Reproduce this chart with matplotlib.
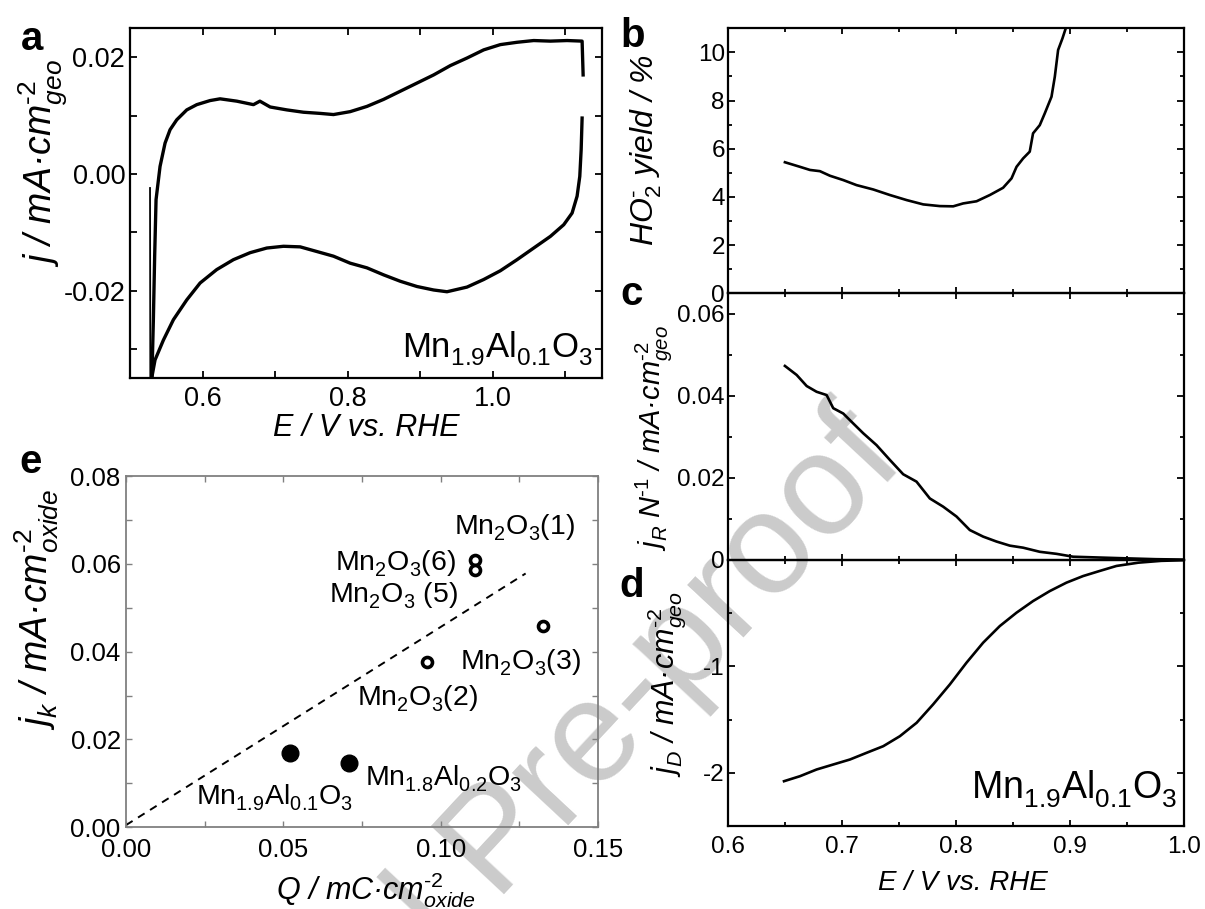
import matplotlib
matplotlib.use('Agg')
import matplotlib.pyplot as plt
from matplotlib.ticker import MultipleLocator, FixedLocator, FuncFormatter

try:  # deeper subscripts, closer to the reference typography
    import matplotlib._mathtext as _mt
    _mt.FontConstantsBase.sub1 = 0.46
except Exception:
    pass

plt.rcParams['font.family'] = ['Liberation Sans', 'DejaVu Sans']
plt.rcParams['mathtext.fontset'] = 'custom'
plt.rcParams['mathtext.rm'] = 'Liberation Sans'
plt.rcParams['mathtext.it'] = 'Liberation Sans:italic'
plt.rcParams['mathtext.bf'] = 'Liberation Sans:bold'
plt.rcParams['mathtext.default'] = 'regular'
plt.rcParams['axes.unicode_minus'] = False

# ---------------- data ----------------
# (a) cyclic voltammogram
cv_spike_E = [0.5276, 0.5280]
cv_spike_j = [-0.0024, -0.0360]
cv_anodic_E = [0.5300, 0.5322, 0.5340, 0.5359, 0.5414, 0.5483, 0.5552, 0.5644, 0.5782, 0.5920,
               0.6103, 0.6241, 0.6471, 0.6701, 0.6790, 0.6931, 0.7161, 0.7390, 0.7620, 0.7804,
               0.8034, 0.8265, 0.8494, 0.8724, 0.8954, 0.9184, 0.9414, 0.9644, 0.9874, 1.0103,
               1.0333, 1.0563, 1.0793, 1.1023, 1.1230, 1.1244]
cv_anodic_j = [-0.0360, -0.0250, -0.0140, -0.0044, 0.0013, 0.0053, 0.0076, 0.0093, 0.0110, 0.0119,
               0.0126, 0.0129, 0.0125, 0.0119, 0.0125, 0.0115, 0.0110, 0.0106, 0.0104, 0.0102,
               0.0107, 0.0116, 0.0128, 0.0142, 0.0156, 0.0170, 0.0186, 0.0199, 0.0213, 0.0222,
               0.0226, 0.0229, 0.0228, 0.0229, 0.0228, 0.0170]
cv_cathodic_E = [1.1230, 1.1217, 1.1198, 1.1161, 1.1092, 1.0977, 1.0793, 1.0563, 1.0333, 1.0103,
                 0.9874, 0.9644, 0.9368, 0.9184, 0.8954, 0.8724, 0.8494, 0.8265, 0.8034, 0.7804,
                 0.7575, 0.7345, 0.7115, 0.6885, 0.6655, 0.6425, 0.6195, 0.5966, 0.5782, 0.5598,
                 0.5460, 0.5345, 0.5299, 0.5290]
cv_cathodic_j = [0.0096, 0.0042, -0.0004, -0.0038, -0.0067, -0.0087, -0.0107, -0.0127, -0.0147, -0.0166,
                 -0.0181, -0.0194, -0.0202, -0.0199, -0.0193, -0.0184, -0.0173, -0.0161, -0.0153, -0.0141,
                 -0.0133, -0.0125, -0.0124, -0.0127, -0.0135, -0.0147, -0.0164, -0.0187, -0.0216, -0.0250,
                 -0.0285, -0.0319, -0.0350, -0.0360]

# (b) HO2- yield
ho2_E = [0.6497, 0.6629, 0.6717, 0.6804, 0.6892, 0.7009, 0.7126, 0.7272, 0.7418, 0.7565,
         0.7711, 0.7857, 0.7974, 0.8061, 0.8179, 0.8296, 0.8412, 0.8486, 0.8530, 0.8588,
         0.8646, 0.8675, 0.8734, 0.8778, 0.8837, 0.8866, 0.8895, 0.8933, 0.8962]
ho2_yield = [5.44, 5.25, 5.12, 5.07, 4.88, 4.70, 4.49, 4.31, 4.08, 3.87,
             3.69, 3.62, 3.61, 3.73, 3.82, 4.08, 4.38, 4.77, 5.25, 5.60,
             5.88, 6.64, 6.98, 7.47, 8.16, 8.99, 10.10, 10.58, 11.00]

# (c) ring current
jr_E = [0.6497, 0.6600, 0.6688, 0.6775, 0.6863, 0.6921, 0.7009, 0.7096, 0.7184, 0.7301,
        0.7418, 0.7535, 0.7652, 0.7769, 0.7886, 0.8003, 0.8120, 0.8237, 0.8354, 0.8471,
        0.8588, 0.8734, 0.8881, 0.9027, 0.9260, 0.9500, 0.9750, 1.0000]
jr_val = [0.0473, 0.0451, 0.0424, 0.0410, 0.0402, 0.0370, 0.0357, 0.0333, 0.0309, 0.0280,
          0.0244, 0.0209, 0.0191, 0.0150, 0.0130, 0.0106, 0.0073, 0.0057, 0.0045, 0.0035,
          0.0030, 0.0020, 0.0015, 0.0008, 0.0006, 0.0004, 0.0002, 0.0001]

# (d) disk current
jd_E = [0.6489, 0.6629, 0.6775, 0.6921, 0.7068, 0.7214, 0.7360, 0.7506, 0.7653, 0.7798,
        0.7945, 0.8091, 0.8237, 0.8383, 0.8530, 0.8675, 0.8822, 0.8968, 0.9114, 0.9260,
        0.9407, 0.9600, 0.9800, 1.0000]
jd_val = [-2.079, -2.032, -1.969, -1.922, -1.875, -1.812, -1.750, -1.656, -1.530, -1.357,
          -1.169, -0.965, -0.777, -0.621, -0.495, -0.386, -0.292, -0.213, -0.151, -0.103,
          -0.056, -0.025, -0.008, -0.002]

# (e) kinetic current vs charge
q_filled = [0.0521, 0.0710]
jk_filled = [0.0170, 0.0146]
q_open = [0.0956, 0.1109, 0.1109, 0.1325]
jk_open = [0.0376, 0.0608, 0.0587, 0.0459]
fit_q = [0.0, 0.127]
fit_jk = [0.0005, 0.0578]
e_labels = [r"Mn$_2$O$_3$(1)", r"Mn$_2$O$_3$(6)", r"Mn$_2$O$_3$ (5)", r"Mn$_2$O$_3$(3)",
            r"Mn$_2$O$_3$(2)", r"Mn$_{1.8}$Al$_{0.2}$O$_3$", r"Mn$_{1.9}$Al$_{0.1}$O$_3$"]
e_label_xy = [(0.1043, 0.0668), (0.0665, 0.0586), (0.0644, 0.0512), (0.1061, 0.0361),
              (0.0733, 0.0279), (0.0760, 0.0097), (0.0224, 0.0052)]

sample = r"Mn$_{1.9}$Al$_{0.1}$O$_3$"
HY = "\u2010"  # short hyphen for superscripts

# ---------------- figure ----------------
W, H = 1205, 909
fig = plt.figure(figsize=(W / 100, H / 100), dpi=100)
fig.patch.set_facecolor('white')

def rect(l, t, r, b):
    return [l / W, 1 - b / H, (r - l) / W, (b - t) / H]

def style(ax, color='black', lw=1.6, major=5, minor=5, width=1.3, size=16, padx=7, pady=3):
    ax.set_facecolor('none')
    for s in ax.spines.values():
        s.set_linewidth(lw)
        s.set_color(color)
    ax.tick_params(which='both', direction='in', top=True, right=True, color=color, width=width)
    ax.tick_params(which='major', length=major)
    ax.tick_params(which='minor', length=minor)
    ax.tick_params(axis='x', which='both', pad=padx, labelsize=size)
    ax.tick_params(axis='y', which='both', pad=pady, labelsize=size)

# watermark (behind everything)
fig.text(907 / W, 1 - 462 / H, "Journal Pre-proof", rotation=47, rotation_mode='anchor',
         ha='right', va='baseline', fontsize=104, color='#cbcbcb', zorder=-10)

# ----- (a)
ax_a = fig.add_axes(rect(130, 28.3, 601.7, 378))
style(ax_a, size=19.5, lw=1.6, major=5, minor=5, padx=6, pady=3.5)
ax_a.plot(cv_spike_E, cv_spike_j, color='black', lw=1.3)
ax_a.plot(cv_anodic_E, cv_anodic_j, color='black', lw=2.4)
ax_a.plot(cv_cathodic_E, cv_cathodic_j, color='black', lw=2.4)
ax_a.set_xlim(0.5, 1.15)
ax_a.set_ylim(-0.035, 0.025)
ax_a.xaxis.set_major_locator(FixedLocator([0.6, 0.8, 1.0]))
ax_a.xaxis.set_minor_locator(FixedLocator([0.5, 0.7, 0.9, 1.1]))
ax_a.yaxis.set_major_locator(FixedLocator([-0.02, 0.0, 0.02]))
ax_a.yaxis.set_minor_locator(FixedLocator([-0.03, -0.01, 0.01]))
ax_a.xaxis.set_major_formatter(FuncFormatter(lambda v, p: f"{v:.1f}"))
ax_a.yaxis.set_major_formatter(FuncFormatter(lambda v, p: f"{v:.2f}"))
ax_a.set_ylabel("j / mA·cm$^{\\mathit{" + HY + "2}}_{\\mathit{geo}}$", fontsize=27,
                fontstyle='italic', va='center', ha='center')
ax_a.yaxis.set_label_coords(-0.184, 0.616)
ax_a.set_xlabel("E / V vs. RHE", fontsize=22, fontstyle='italic', va='center')
ax_a.xaxis.set_label_coords(0.5, -0.143)
ax_a.text(0.982, 0.06, sample, transform=ax_a.transAxes, ha='right', va='baseline', fontsize=25)

# ----- (b), (c), (d)
xl = (0.6, 1.0)
ax_b = fig.add_axes(rect(728.3, 28.3, 1184, 293.3))
ax_c = fig.add_axes(rect(728.3, 293.3, 1184, 560))
ax_d = fig.add_axes(rect(728.3, 560, 1184, 826))
for ax in (ax_b, ax_c, ax_d):
    style(ax, size=17.5, lw=1.6, major=4, minor=3, padx=7, pady=2.5)
    ax.set_xlim(*xl)
    ax.xaxis.set_major_locator(MultipleLocator(0.1))
    ax.xaxis.set_minor_locator(MultipleLocator(0.05))
for ax in (ax_b, ax_c):
    ax.tick_params(axis='x', labelbottom=False)

ax_b.plot(ho2_E, ho2_yield, color='black', lw=1.9)
ax_b.set_ylim(0, 11)
ax_b.yaxis.set_major_locator(MultipleLocator(2))
ax_b.yaxis.set_minor_locator(MultipleLocator(1))
ax_b.tick_params(axis='y', which='major', length=5)
ax_b.set_ylabel("HO$_{\\mathit{2}}^{\\mathit{" + HY + "}}$ yield / %", fontsize=23,
                fontstyle='italic', va='center', ha='center')
ax_b.yaxis.set_label_coords(-0.181, 0.541)

ax_c.plot(jr_E, jr_val, color='black', lw=1.9)
ax_c.set_ylim(0, 0.065)
ax_c.yaxis.set_major_locator(FixedLocator([0.0, 0.02, 0.04, 0.06]))
ax_c.yaxis.set_minor_locator(FixedLocator([0.01, 0.03, 0.05]))
ax_c.yaxis.set_major_formatter(FuncFormatter(lambda v, p: "0" if abs(v) < 1e-9 else f"{v:.2f}"))
ax_c.tick_params(axis='y', which='major', length=5)
ax_c.set_ylabel("j$_{\\mathit{R}}$ N$^{\\mathit{" + HY + "1}}$ / mA·cm$^{\\mathit{" + HY
                + "2}}_{\\mathit{geo}}$", fontsize=21, fontstyle='italic', va='center', ha='center')
ax_c.yaxis.set_label_coords(-0.164, 0.459)

ax_d.plot(jd_E, jd_val, color='black', lw=1.9)
ax_d.set_ylim(-2.5, 0)
ax_d.yaxis.set_major_locator(FixedLocator([-2, -1, 0]))
ax_d.yaxis.set_minor_locator(FixedLocator([-2.5, -1.5, -0.5]))
ax_d.yaxis.set_major_formatter(FuncFormatter(lambda v, p: "" if abs(v) < 1e-9 else f"{v:.0f}"))
ax_d.xaxis.set_major_formatter(FuncFormatter(lambda v, p: f"{v:.1f}"))
ax_d.tick_params(axis='y', which='major', length=5)
ax_d.set_ylabel("j$_{\\mathit{D}}$ / mA·cm$^{\\mathit{" + HY + "2}}_{\\mathit{geo}}$",
                fontsize=22, fontstyle='italic', va='center', ha='center')
ax_d.yaxis.set_label_coords(-0.135, 0.535)
ax_d.set_xlabel("E / V vs. RHE", fontsize=20, fontstyle='italic', va='center')
ax_d.xaxis.set_label_coords(0.514, -0.216)
ax_d.text(0.986, 0.105, sample, transform=ax_d.transAxes, ha='right', va='baseline', fontsize=27)

# ----- (e)
ax_e = fig.add_axes(rect(126, 476, 598, 827.3))
style(ax_e, color='#808080', size=18.5, lw=1.3, major=4, minor=4, width=1.0, padx=8, pady=3.8)
ax_e.tick_params(labelcolor='black')
ax_e.plot(fit_q, fit_jk, color='black', lw=1.4, dashes=(4, 3.3))
ax_e.plot(q_open, jk_open, linestyle='none', marker='o', markersize=7.2, markerfacecolor='white',
          markeredgecolor='black', markeredgewidth=2.6)
ax_e.plot(q_filled, jk_filled, linestyle='none', marker='o', markersize=12,
          markerfacecolor='black', markeredgecolor='black')
ax_e.set_xlim(0, 0.15)
ax_e.set_ylim(0, 0.08)
ax_e.xaxis.set_major_locator(MultipleLocator(0.05))
ax_e.xaxis.set_minor_locator(MultipleLocator(0.025))
ax_e.yaxis.set_major_locator(MultipleLocator(0.02))
ax_e.yaxis.set_minor_locator(MultipleLocator(0.01))
ax_e.xaxis.set_major_formatter(FuncFormatter(lambda v, p: f"{v:.2f}"))
ax_e.yaxis.set_major_formatter(FuncFormatter(lambda v, p: f"{v:.2f}"))
for lab, (x, y) in zip(e_labels, e_label_xy):
    ax_e.text(x, y, lab, ha='left', va='baseline', fontsize=20.5)
ax_e.set_ylabel("j$_{\\mathit{k}}$ / mA·cm$^{\\mathit{" + HY + "2}}_{\\mathit{oxide}}$", fontsize=27,
                fontstyle='italic', va='center', ha='center')
ax_e.yaxis.set_label_coords(-0.189, 0.619)
ax_e.set_xlabel("Q / mC·cm$^{\\mathit{" + HY + "2}}_{\\mathit{oxide}}$", fontsize=22,
                fontstyle='italic', va='center')
ax_e.xaxis.set_label_coords(0.53, -0.178)

# panel letters
for letter, (px, py) in [('a', (21, 50)), ('b', (620, 47)), ('c', (620, 305)),
                         ('d', (619, 597)), ('e', (19, 473))]:
    fig.text(px / W, 1 - py / H, letter, fontsize=29, fontweight='bold', ha='left', va='baseline')

fig.savefig('out.png', dpi=100)
